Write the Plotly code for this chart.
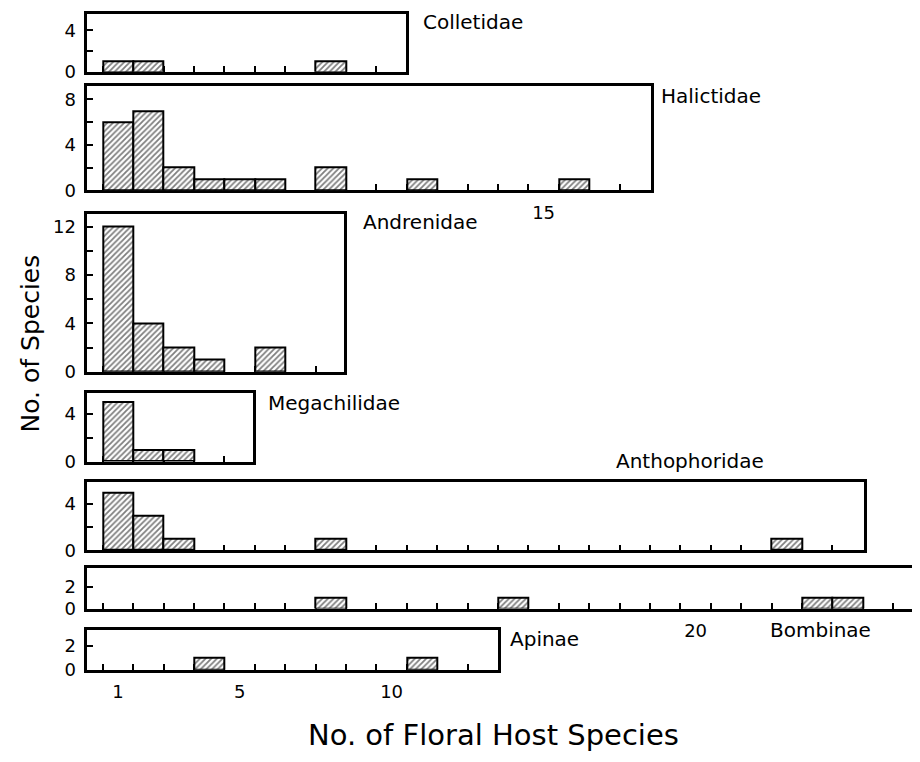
import plotly.graph_objects as go

# ---------------- data ----------------
families = ["Colletidae", "Halictidae", "Andrenidae", "Megachilidae",
            "Anthophoridae", "Bombinae", "Apinae"]

colletidae_hosts = [1, 2, 8]
colletidae_species = [1, 1, 1]

halictidae_hosts = [1, 2, 3, 4, 5, 6, 8, 11, 16]
halictidae_species = [6, 7, 2, 1, 1, 1, 2, 1, 1]

andrenidae_hosts = [1, 2, 3, 4, 6]
andrenidae_species = [12, 4, 2, 1, 2]

megachilidae_hosts = [1, 2, 3]
megachilidae_species = [5, 1, 1]

anthophoridae_hosts = [1, 2, 3, 8, 23]
anthophoridae_species = [5, 3, 1, 1, 1]

bombinae_hosts = [8, 14, 24, 25]
bombinae_species = [1, 1, 1, 1]

apinae_hosts = [4, 11]
apinae_species = [1, 1]

hosts = [colletidae_hosts, halictidae_hosts, andrenidae_hosts, megachilidae_hosts,
         anthophoridae_hosts, bombinae_hosts, apinae_hosts]
species = [colletidae_species, halictidae_species, andrenidae_species,
           megachilidae_species, anthophoridae_species, bombinae_species,
           apinae_species]

ytick_vals = [[0, 2, 4], [0, 2, 4, 6, 8], [0, 2, 4, 6, 8, 10, 12], [0, 2, 4],
              [0, 2, 4], [0, 2], [0, 2]]
ytick_text = [["0", "", "4"], ["0", "", "4", "", "8"],
              ["0", "", "4", "", "8", "", "12"], ["0", "", "4"],
              ["0", "", "4"], ["0", "2"], ["0", "2"]]
xtick_labels = [[], [15], [], [], [], [20], [1, 5, 10]]

# ---------------- layout geometry (screen pixels) ----------------
OFFX, OFFY = 8, 8               # html body margin
W, H = 920 - OFFX, 762 - 2 * OFFY
LW = 2.6                        # frame line width
HALF = LW / 2
X_LEFT = 86                     # left frame line of all panels
CENTER_1 = 118                  # centre of bin "1"
PPU = 30.4                      # pixels per host-species bin
# frame line centres: (top, bottom, right) ; right None = runs off the page
panel_box = [(13, 74, 407), (86, 194, 652), (215, 378, 345), (397, 469, 254),
             (487, 559, 865), (574, 618, None), (637, 680, 499)]
panel_ppu_y = [10.5, 11.5, 12.25, 12.0, 11.75, 11.0, 12.0]
label_pos = [(421, 22), (659, 97), (361, 225), (266, 408), (614, 467), (768, 638), (508, 648)]


def xval(px):
    return 1 + (px - CENTER_1) / PPU


def fx(px):
    return (px - OFFX) / W


def fy(py):
    return 1 - (py - OFFY) / H


FONT = "DejaVu Sans"
fig = go.Figure()
layout = dict(width=W, height=H, margin=dict(l=0, r=0, t=0, b=0),
              paper_bgcolor="white", plot_bgcolor="white", showlegend=False,
              bargap=0, font=dict(family=FONT, color="black"))
annotations = []

for i, name in enumerate(families):
    k = "" if i == 0 else str(i + 1)
    top, bot, right = panel_box[i]
    left_px = X_LEFT + HALF
    if right is None:
        right_px = W + OFFX
        mirror_y = False
    else:
        right_px = right - HALF
        mirror_y = True
    xr = [xval(left_px), xval(right_px)]
    xdom = [fx(left_px), min(1.0, fx(right_px))]
    minor_vals = [v + 0.5 for v in range(0, int(xr[1]) + 1) if v + 0.5 < xr[1] - 0.3]

    top_px, bot_px = top + HALF, bot - HALF
    ymax = (bot_px - top_px) / panel_ppu_y[i]

    fig.add_trace(go.Bar(
        x=hosts[i], y=species[i], width=1,
        marker=dict(color="white", line=dict(color="black", width=2),
                    pattern=dict(shape="/", fgcolor="black", bgcolor="white",
                                 size=4, solidity=0.45)),
        xaxis="x" + k, yaxis="y" + k, hoverinfo="skip"))

    layout["xaxis" + k] = dict(
        domain=xdom, range=xr, anchor="y" + k, showgrid=False, zeroline=False,
        showline=True, linecolor="black", linewidth=LW, mirror=True,
        tickvals=xtick_labels[i], ticktext=[str(v) for v in xtick_labels[i]],
        ticks="inside", ticklen=0, tickfont=dict(size=18, family=FONT),
        ticklabelstandoff=4,
        minor=dict(tickvals=minor_vals, ticks="inside", ticklen=6, tickwidth=1.6,
                   tickcolor="black", showgrid=False),
        layer="below traces", fixedrange=True)
    layout["yaxis" + k] = dict(
        domain=[fy(bot_px), fy(top_px)], range=[0, ymax], anchor="x" + k,
        showgrid=False, zeroline=False, showline=True, linecolor="black",
        linewidth=LW, mirror=mirror_y, tickvals=ytick_vals[i], ticktext=ytick_text[i],
        ticks="inside", ticklen=6, tickwidth=1.6, tickcolor="black",
        tickfont=dict(size=18, family=FONT), ticklabelstandoff=5,
        layer="below traces", fixedrange=True)

    lx, ly = label_pos[i]
    annotations.append(dict(text=name, x=fx(lx), y=fy(ly), xref="paper", yref="paper",
                            xanchor="left", yanchor="middle", showarrow=False,
                            font=dict(size=20, family=FONT, color="black")))

annotations.append(dict(text="No. of Species", x=fx(30), y=fy(348), xref="paper",
                        yref="paper", textangle=-90, showarrow=False,
                        xanchor="center", yanchor="middle",
                        font=dict(size=25, family=FONT, color="black")))
annotations.append(dict(text="No. of Floral Host Species", x=fx(493), y=fy(745),
                        xref="paper", yref="paper", showarrow=False,
                        xanchor="center", yanchor="middle",
                        font=dict(size=29, family=FONT, color="black")))
layout["annotations"] = annotations
fig.update_layout(**layout)
fig.write_html("out.html")
